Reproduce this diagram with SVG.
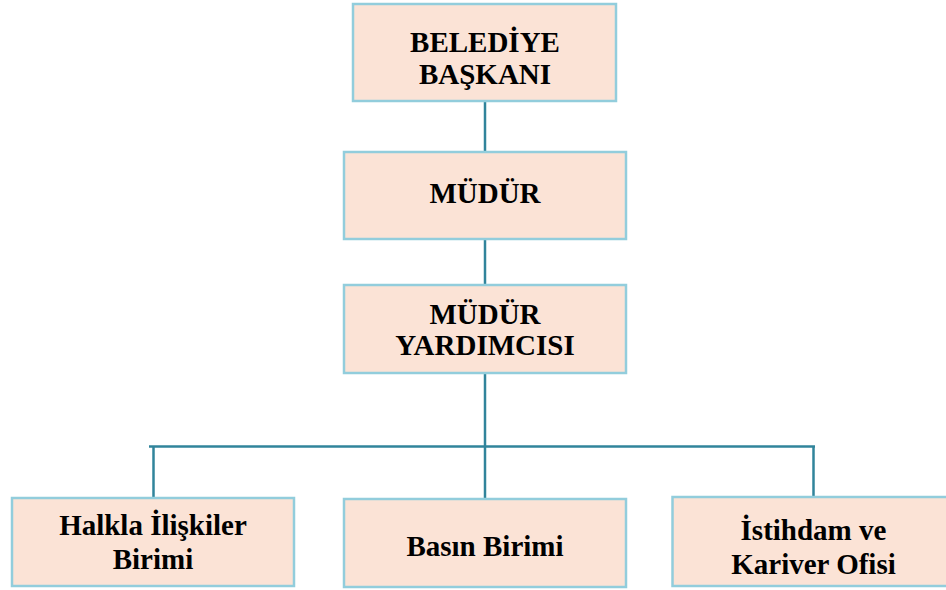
<svg xmlns="http://www.w3.org/2000/svg" width="946" height="590" viewBox="0 0 946 590">
<style>
.box{fill:#FBE3D6;stroke:#92CDDC;stroke-width:2.5}
.conn{stroke:#31849B;stroke-width:2.5;fill:none}
text{font-family:"Liberation Serif","Times New Roman",serif;font-weight:bold;font-size:29px;fill:#000;text-anchor:middle}
</style>
<rect width="946" height="590" fill="#fff"/>
<g id="connectors">
<line class="conn" x1="485" y1="101" x2="485" y2="152"/>
<line class="conn" x1="485" y1="239" x2="485" y2="285"/>
<line class="conn" x1="485" y1="373" x2="485" y2="499"/>
<line class="conn" x1="149" y1="446.5" x2="815" y2="446.5"/>
<line class="conn" x1="153.5" y1="446.5" x2="153.5" y2="498"/>
<line class="conn" x1="813.5" y1="446.5" x2="813.5" y2="497"/>
</g>
<g id="baskan">
<rect class="box" x="353" y="4" width="263" height="97"/>
<text x="485" y="52">BELEDİYE</text>
<text x="485" y="83.5">BAŞKANI</text>
</g>
<g id="mudur">
<rect class="box" x="344" y="152" width="282" height="87"/>
<text x="485" y="202.5">MÜDÜR</text>
</g>
<g id="mudur-yardimcisi">
<rect class="box" x="344" y="285" width="282" height="88"/>
<text x="485" y="323.5">MÜDÜR</text>
<text x="485" y="355">YARDIMCISI</text>
</g>
<g id="halkla">
<rect class="box" x="12" y="498" width="282" height="88"/>
<text x="153" y="535">Halkla İlişkiler</text>
<text x="153" y="568.5">Birimi</text>
</g>
<g id="basin">
<rect class="box" x="344" y="499" width="282" height="88"/>
<text x="485" y="556">Basın Birimi</text>
</g>
<g id="istihdam">
<rect class="box" x="672.5" y="497" width="282" height="89"/>
<text x="813.5" y="540">İstihdam ve</text>
<text x="813.5" y="574">Kariver Ofisi</text>
</g>
</svg>
